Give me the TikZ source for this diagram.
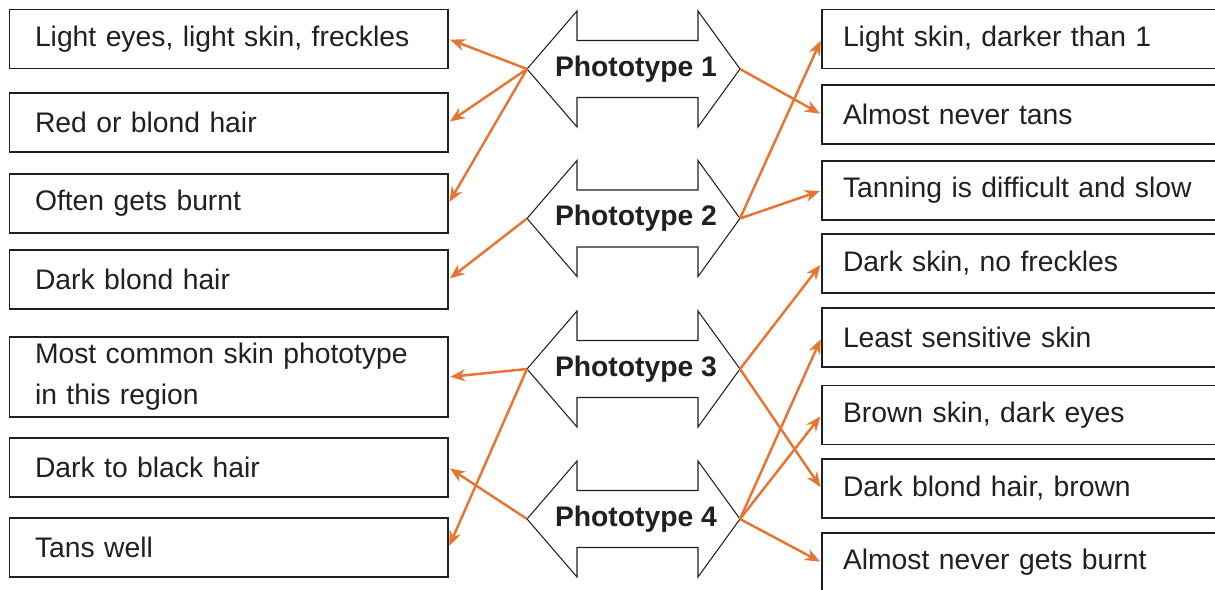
\documentclass[tikz,border=0pt]{standalone}
\usepackage{fontspec}
\setmainfont{Liberation Sans}
\usetikzlibrary{positioning, arrows.meta, calc}
\definecolor{tanorange}{RGB}{230,117,50}
\definecolor{inkgray}{RGB}{35,31,32}
\hyphenpenalty=10000
\exhyphenpenalty=10000

\begin{document}
\begin{tikzpicture}[
		font=\fontsize{8.05}{11.65}\selectfont,
		leftbox/.style={draw=inkgray, line width=0.3pt, text=inkgray, text width=3.875cm, inner xsep=0.255cm, minimum height=0.59cm, align=left},
		rightbox/.style={leftbox, text width=3.9cm, inner xsep=0.21cm},
		conn/.style={draw=tanorange, line width=0.7pt, -{Stealth[length=0.15cm, width=0.12cm]}, shorten >=0.5pt},
		dblarrow/.pic={
			\draw[draw=inkgray, line width=0.3pt, fill=white] (-1.00,0) coordinate (-l) -- (-0.50,0.58) -- (-0.50,0.285) -- (0.71,0.285) -- (0.71,0.58) -- (1.13,0) coordinate (-r) -- (0.71,-0.58) -- (0.71,-0.285) -- (-0.50,-0.285) -- (-0.50,-0.58) -- cycle;
			\node[font=\fontsize{8.05}{11.65}\selectfont\bfseries, text=inkgray] (-t) at (0.09,0) {#1};
		}
	]
	\useasboundingbox (0,0) rectangle (12.15,-5.90);
	% left column
	\foreach \n/\y/\t in {L1/0.39/{Light eyes, light skin, freckles}, L2/1.225/{Red or blond hair}, L3/2.035/{Often gets burnt}, L4/2.795/{Dark blond hair}, L6/4.675/{Dark to black hair}, L7/5.475/{Tans well}} {
		\node[leftbox] (\n) at (2.2875,-\y) {\t};
	}
	\node[leftbox, minimum height=0.80cm, inner ysep=0.04cm] (L5) at (2.2875,-3.77) {Most common skin phototype\\ in this region};
	% right column
	\foreach \n/\y/\t in {R1/0.39/{Light skin, darker than 1}, R2/1.145/{Almost never tans}, R3/1.905/{Tanning is difficult and slow}, R4/2.635/{Dark skin, no freckles}, R5/3.375/{Least sensitive skin}, R6/4.15/{Brown skin, dark eyes}, R7/4.885/{Dark blond hair, brown}, R8/5.625/{Almost never gets burnt}} {
		\node[rightbox] (\n) at (10.38,-\y) {\t};
	}
	% phototypes
	\pic (P1) at (6.27,-0.69) {dblarrow={Phototype 1}};
	\pic (P2) at (6.27,-2.185) {dblarrow={Phototype 2}};
	\pic (P3) at (6.27,-3.69) {dblarrow={Phototype 3}};
	\pic (P4) at (6.27,-5.19) {dblarrow={Phototype 4}};
	% links
	\foreach \a/\b in {P1-l/L1.east, P1-l/L2.east, P1-l/L3.east, P1-r/R2.west, P2-l/L4.east, P2-r/R1.west, P2-r/R3.west, P3-l/L5.east, P3-l/L7.east, P3-r/R4.west, P3-r/R7.west, P4-l/L6.east, P4-r/R5.west, P4-r/R6.west, P4-r/R8.west} {
		\draw[conn] (\a) -- (\b);
	}
\end{tikzpicture}
\end{document}
